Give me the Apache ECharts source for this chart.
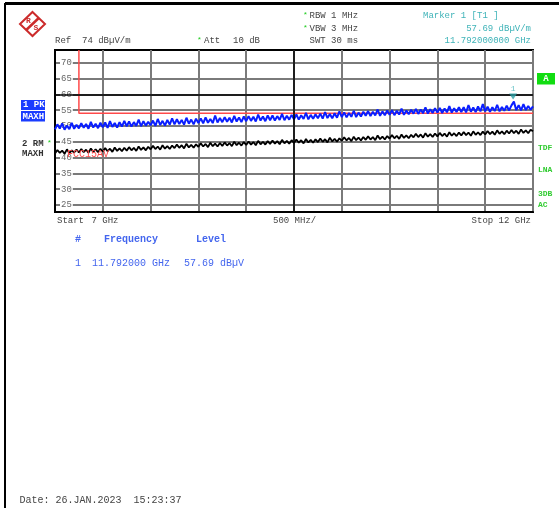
<!DOCTYPE html>
<html>
<head>
<meta charset="utf-8">
<script src="https://cdn.jsdelivr.net/npm/echarts@6/dist/echarts.min.js"></script>
<style>
  html, body { margin: 0; padding: 0; background: #fff; }
  #chart { width: 559px; height: 508px; }
</style>
</head>
<body>
<div id="chart"></div>
<script>
// Sweep settings (GHz) and reference level (dBµV/m)
const startGHz = 7;
const stopGHz = 12;
const refLevel = 74;
const bottomLevel = 22.8;

// Level tick labels on the display grid
const levelTicks = [25, 30, 35, 40, 45, 50, 55, 60, 65, 70];

// Trace 1: PK, max hold (dBµV/m), 201 sweep points
const peakTrace = [
  48.9, 50.5, 49.2, 50.8, 48.8, 50.1, 49.0, 51.0, 49.1, 50.4,
  49.2, 50.9, 49.4, 50.6, 49.1, 51.3, 49.5, 50.7, 49.3, 51.0,
  49.6, 51.1, 49.4, 51.5, 49.7, 50.9, 49.5, 51.2, 49.8, 51.6,
  49.9, 51.4, 49.8, 51.2, 50.0, 52.0, 49.9, 51.5, 50.1, 51.3,
  50.2, 51.7, 50.0, 52.2, 50.3, 51.6, 50.1, 51.9, 50.4, 52.4,
  50.5, 52.1, 50.6, 51.9, 50.4, 52.6, 50.7, 52.0, 50.5, 52.3,
  50.9, 52.4, 50.8, 52.7, 51.0, 52.2, 50.9, 53.3, 51.1, 52.5,
  51.2, 52.8, 51.3, 52.6, 51.1, 53.2, 51.4, 52.7, 51.2, 53.0,
  51.5, 53.1, 51.6, 52.9, 51.4, 53.6, 51.7, 53.0, 51.5, 53.3,
  51.8, 53.3, 51.7, 53.1, 51.9, 53.8, 51.8, 53.2, 52.0, 53.5,
  52.1, 53.6, 52.0, 53.4, 52.2, 54.1, 52.1, 53.5, 52.3, 53.7,
  52.4, 53.9, 52.3, 54.4, 52.5, 53.8, 52.4, 54.0, 52.6, 54.6,
  52.8, 54.3, 52.7, 54.1, 52.9, 54.8, 52.8, 54.2, 53.0, 54.5,
  53.2, 54.7, 53.1, 54.5, 53.3, 55.2, 53.2, 54.6, 53.4, 54.9,
  53.5, 55.0, 53.4, 54.8, 53.6, 55.5, 53.5, 54.9, 53.7, 55.1,
  53.9, 55.4, 53.8, 55.2, 54.0, 55.9, 53.9, 55.3, 54.1, 55.6,
  54.2, 55.7, 54.1, 55.5, 54.3, 56.3, 54.2, 55.6, 54.4, 55.9,
  54.4, 55.9, 54.3, 56.6, 54.5, 55.8, 54.4, 56.2, 54.6, 56.9,
  54.6, 56.1, 54.5, 55.9, 54.7, 56.7, 54.6, 56.0, 54.8, 56.4,
  54.9, 56.5, 57.69, 55.0, 56.6, 54.9, 56.9, 55.0, 56.3, 55.1,
  56.2
];

// Trace 2: RMS, max hold (dBµV/m), 201 sweep points
const rmsTrace = [
  41.3, 42.4, 41.5, 42.2, 41.2, 42.6, 41.4, 42.3, 41.6, 42.5,
  41.6, 42.7, 41.7, 42.5, 41.5, 42.9, 41.8, 42.6, 41.7, 42.8,
  41.9, 43.0, 42.0, 42.8, 41.8, 43.2, 42.1, 42.9, 42.0, 43.1,
  42.2, 43.3, 42.3, 43.1, 42.1, 43.5, 42.4, 43.2, 42.3, 43.4,
  42.6, 43.7, 42.7, 43.5, 42.5, 43.9, 42.8, 43.6, 42.7, 43.8,
  43.0, 44.1, 43.1, 43.9, 42.9, 44.4, 43.2, 44.0, 43.1, 44.2,
  43.4, 44.5, 43.5, 44.3, 43.3, 44.7, 43.6, 44.4, 43.5, 44.6,
  43.7, 44.8, 43.8, 44.6, 43.6, 45.0, 43.9, 44.7, 43.8, 44.9,
  44.0, 45.1, 44.1, 44.9, 43.9, 45.3, 44.2, 45.0, 44.1, 45.2,
  44.3, 45.4, 44.4, 45.2, 44.2, 45.6, 44.5, 45.3, 44.4, 45.5,
  44.6, 45.7, 44.7, 45.5, 44.5, 45.9, 44.8, 45.6, 44.7, 45.8,
  44.9, 46.0, 45.0, 45.8, 44.8, 46.3, 45.1, 45.9, 45.0, 46.1,
  45.3, 46.4, 45.4, 46.2, 45.2, 46.6, 45.5, 46.3, 45.4, 46.5,
  45.6, 46.7, 45.7, 46.5, 45.5, 47.0, 45.8, 46.6, 45.7, 46.8,
  46.0, 47.1, 46.1, 46.9, 45.9, 47.3, 46.2, 47.0, 46.1, 47.2,
  46.4, 47.5, 46.5, 47.3, 46.3, 47.7, 46.6, 47.4, 46.5, 47.6,
  46.7, 47.8, 46.8, 47.6, 46.6, 48.0, 46.9, 47.7, 46.8, 47.9,
  47.0, 48.1, 47.1, 47.9, 46.9, 48.3, 47.2, 48.0, 47.1, 48.2,
  47.3, 48.4, 47.4, 48.2, 47.2, 48.6, 47.5, 48.3, 47.4, 48.5,
  47.6, 48.7, 47.7, 48.5, 47.5, 48.9, 47.8, 48.6, 47.7, 48.8,
  48.3
];

// FCC 15 limit line (frequency GHz, level dBµV/m)
const limitFreq = [7.25, 7.25, 12];
const limitLevel = [74, 54, 54];
const limitName = 'FCC15AV';

// Marker 1
const markerFreq = 11.792;
const markerLevel = 57.69;

const sweepFreq = (n) => startGHz + n * (stopGHz - startGHz) / (peakTrace.length - 1);
const pairs = (vals) => vals.map((v, n) => [sweepFreq(n), v]);

const mono = '"Liberation Mono", "Courier New", monospace';
const gray = '#444';
const teal = '#3fb3b8';
const green = '#22cc22';
const tableBlue = '#4466ee';

function txt(x, y, text, opt) {
  opt = opt || {};
  return {
    type: 'text', z: 100, silent: true,
    style: {
      x: x, y: y, text: text,
      fill: opt.fill || gray,
      font: (opt.weight || 'normal') + ' ' + (opt.size || 9) + 'px ' + mono,
      align: opt.align || 'left',
      verticalAlign: 'middle'
    }
  };
}

const markerGHzText = markerFreq.toFixed(9) + ' GHz';
const graphics = [
  // page frame
  { type: 'line', silent: true, shape: { x1: 5, y1: 3.5, x2: 559, y2: 3.5 }, style: { stroke: '#000', lineWidth: 3 } },
  { type: 'line', silent: true, shape: { x1: 5, y1: 3, x2: 5, y2: 508 }, style: { stroke: '#000', lineWidth: 2 } },
  // logo
  { type: 'polygon', silent: true, shape: { points: [[32.5, 12], [45, 24], [32.5, 36], [20, 24]] },
    style: { fill: 'none', stroke: '#cc2b2b', lineWidth: 2 } },
  { type: 'line', silent: true, shape: { x1: 38.8, y1: 18, x2: 26.2, y2: 30 }, style: { stroke: '#cc2b2b', lineWidth: 2.5 } },
  txt(26, 20.5, 'R', { fill: '#cc2b2b', weight: 'bold', size: 8 }),
  txt(33.5, 28, 'S', { fill: '#cc2b2b', weight: 'bold', size: 8 }),
  // header
  txt(55, 41, 'Ref  ' + refLevel + ' dBµV/m'),
  txt(197, 40, '*', { fill: green, size: 8 }),
  txt(204, 41, 'Att'),
  txt(233, 41, '10 dB'),
  txt(303, 15, '*', { fill: green, size: 8 }),
  txt(309.5, 16, 'RBW 1 MHz'),
  txt(303, 28, '*', { fill: green, size: 8 }),
  txt(309.5, 29, 'VBW 3 MHz'),
  txt(309.5, 41, 'SWT 30 ms'),
  txt(423, 16, 'Marker 1 [T1 ]', { fill: teal }),
  txt(531, 29, markerLevel.toFixed(2) + ' dBµV/m', { fill: teal, align: 'right' }),
  txt(531, 41, markerGHzText, { fill: teal, align: 'right' }),
  // trace legend, left
  { type: 'rect', silent: true, shape: { x: 21, y: 100, width: 24, height: 10 }, style: { fill: '#1a3cff' } },
  txt(23, 105, '1 PK', { fill: '#fff', weight: 'bold' }),
  { type: 'rect', silent: true, shape: { x: 21, y: 111, width: 24, height: 10.5 }, style: { fill: '#1a3cff' } },
  txt(22.5, 116.3, 'MAXH', { fill: '#fff', weight: 'bold' }),
  txt(22, 144, '2 RM', { fill: '#333', weight: 'bold' }),
  txt(47, 143, '*', { fill: green, size: 8 }),
  txt(22, 153.5, 'MAXH', { fill: '#333', weight: 'bold' }),
  // status column, right
  { type: 'rect', silent: true, shape: { x: 537, y: 73, width: 18, height: 11.5 }, style: { fill: '#11dd11' } },
  txt(546, 79, 'A', { fill: '#fff', weight: 'bold', align: 'center' }),
  txt(538, 147.5, 'TDF', { fill: '#33cc33', weight: 'bold', size: 8 }),
  txt(538, 170, 'LNA', { fill: '#33cc33', weight: 'bold', size: 8 }),
  txt(538, 193.5, '3DB', { fill: '#33cc33', weight: 'bold', size: 8 }),
  txt(538, 204.5, 'AC', { fill: '#33cc33', weight: 'bold', size: 8 }),
  // limit line name
  txt(67, 154, limitName, { fill: '#ff4a4a', size: 10 }),
  // span row
  txt(57, 221, 'Start'),
  txt(91.5, 221, startGHz + ' GHz'),
  txt(273, 221, '500 MHz/'),
  txt(531, 221, 'Stop ' + stopGHz + ' GHz', { align: 'right' }),
  // marker table
  txt(75, 239.5, '#', { fill: tableBlue, weight: 'bold', size: 10 }),
  txt(104, 239.5, 'Frequency', { fill: tableBlue, weight: 'bold', size: 10 }),
  txt(196, 239.5, 'Level', { fill: tableBlue, weight: 'bold', size: 10 }),
  txt(75, 263, '1', { fill: tableBlue, size: 10 }),
  txt(92, 263, markerFreq.toFixed(6) + ' GHz', { fill: tableBlue, size: 10 }),
  txt(184, 263, markerLevel.toFixed(2) + ' dBµV', { fill: tableBlue, size: 10 }),
  // footer
  txt(19.5, 500, 'Date: 26.JAN.2023  15:23:37', { size: 10 })
];

const chart = echarts.init(document.getElementById('chart'), null, { renderer: 'canvas' });
chart.setOption({
  animation: false,
  backgroundColor: '#fff',
  grid: { left: 55, right: 26, top: 50, bottom: 296, show: true, borderColor: '#000', borderWidth: 2, backgroundColor: 'transparent' },
  xAxis: {
    type: 'value', min: startGHz, max: stopGHz, interval: 0.5,
    axisLine: { show: true, onZero: false, lineStyle: { color: '#000', width: 2 } },
    axisTick: { show: false },
    axisLabel: { show: false },
    splitLine: { show: true, lineStyle: { color: '#7a7a7a', width: 2 } }
  },
  yAxis: {
    type: 'value', min: bottomLevel, max: refLevel,
    axisLine: { show: true, onZero: false, lineStyle: { color: '#000', width: 2 } },
    axisTick: { show: false, customValues: levelTicks },
    axisLabel: {
      inside: true, customValues: levelTicks, margin: 5,
      color: '#666', fontFamily: mono, fontSize: 9,
      backgroundColor: '#fff', padding: [0, 1]
    },
    splitLine: { show: true, lineStyle: { color: '#7a7a7a', width: 2 } }
  },
  series: [
    {
      // darker centre reference lines
      type: 'line', data: [], z: 1, silent: true,
      markLine: {
        silent: true, symbol: 'none', animation: false, label: { show: false },
        lineStyle: { color: '#000', width: 1.5, type: 'solid' },
        data: [{ yAxis: 60 }, { xAxis: 9.5 }]
      }
    },
    {
      name: limitName, type: 'line', z: 2, silent: true, symbol: 'none',
      lineStyle: { color: '#ff4a4a', width: 1.5 },
      data: limitFreq.map((f, n) => [f, limitLevel[n]])
    },
    {
      name: '2 RM', type: 'line', z: 3, silent: true, symbol: 'none',
      lineStyle: { color: '#000', width: 1.8 },
      data: pairs(rmsTrace)
    },
    {
      name: '1 PK', type: 'line', z: 4, silent: true, symbol: 'none',
      lineStyle: { color: '#0a1eff', width: 2 },
      data: pairs(peakTrace)
    },
    {
      name: 'Marker 1', type: 'scatter', z: 5, silent: true,
      symbol: 'triangle', symbolRotate: 180, symbolSize: [8, 6], symbolOffset: [0, -5],
      itemStyle: { color: '#2a9da3' },
      label: { show: true, position: 'top', distance: 1, formatter: '1', color: teal, fontSize: 8, fontFamily: mono },
      data: [[markerFreq, markerLevel]]
    }
  ],
  graphic: graphics
});
</script>
</body>
</html>
